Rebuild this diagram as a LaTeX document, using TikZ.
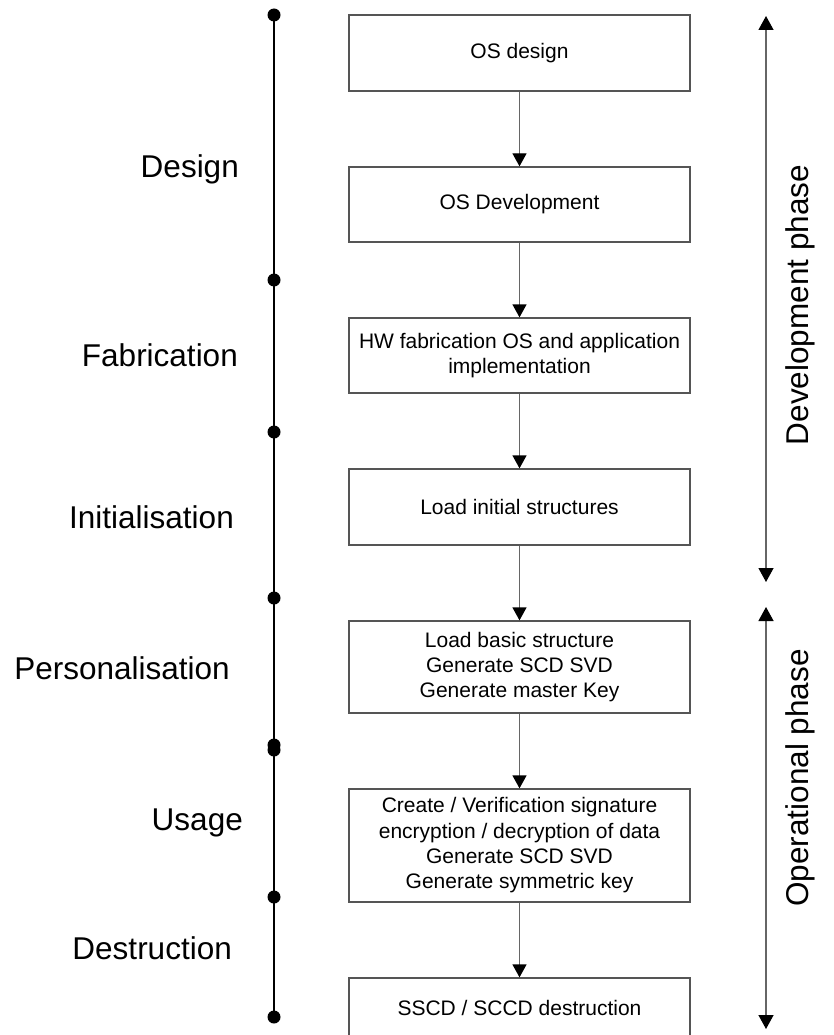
\documentclass[tikz,border=0pt]{standalone}
\usepackage{fontspec}
\setmainfont{Liberation Sans}
\usetikzlibrary{arrows.meta}
\definecolor{boxline}{HTML}{555555}
\definecolor{flowline}{HTML}{666666}
\tikzset{
  box/.style={draw=boxline, line width=1.3pt, minimum width=341pt, inner sep=0pt, align=center,
    font=\fontsize{21}{25.3}\selectfont},
  flow/.style={draw=flowline, line width=1.3pt, -{Triangle[length=13pt,width=14pt,fill=black,color=black]}},
  phase/.style={draw=flowline, line width=1.3pt, {Triangle[length=14pt,width=15pt,fill=black,color=black]}-{Triangle[length=14pt,width=15pt,fill=black,color=black]}},
  dot/.style={circle, fill=black, inner sep=0pt, minimum size=13pt},
  stage/.style={anchor=base east, inner sep=0pt, font=\fontsize{31.5}{36}\selectfont},
  phasetext/.style={rotate=90, inner sep=0pt, font=\fontsize{31.5}{36}\selectfont},
}
\begin{document}
\begin{tikzpicture}[x=1pt,y=-1pt]
\useasboundingbox (0,0) rectangle (833,1035);
\clip (0,0) rectangle (833,1035);
% timeline
\node[dot] (d1) at (274,15) {};
\node[dot] (d2) at (274,280) {};
\node[dot] (d3) at (274,432) {};
\node[dot] (d4) at (274,598) {};
\node[dot] (d5) at (274,745) {};
\node[dot] (d6) at (274,750) {};
\node[dot] (d7) at (274,897) {};
\node[dot] (d8) at (274,1017) {};
\draw[line width=2.5pt] (d1.center) -- (d8.center);
% stage labels
\node[stage] (l1) at (239,178) {Design};
\node[stage] (l2) at (238,366) {Fabrication};
\node[stage] (l3) at (234,528) {Initialisation};
\node[stage] (l4) at (230,679) {Personalisation};
\node[stage] (l5) at (243,830) {Usage};
\node[stage] (l6) at (232,959) {Destruction};
% boxes
\node[box, minimum height=76pt] (b1) at (519.5,53) {OS design};
\node[box, minimum height=75pt] (b2) at (519.5,204.5) {OS Development};
\node[box, minimum height=75pt] (b3) at (519.5,355.5) {HW fabrication OS and application\\implementation};
\node[box, minimum height=76pt] (b4) at (519.5,507) {Load initial structures};
\node[box, minimum height=92pt] (b5) at (519.5,667) {Load basic structure\\Generate SCD SVD\\Generate master Key};
\node[box, minimum height=113pt] (b6) at (519.5,845.5) {Create / Verification signature\\encryption / decryption of data\\Generate SCD SVD\\Generate symmetric key};
\node[box, minimum height=60pt] (b7) at (519.5,1008) {SSCD / SCCD destruction};
\draw[flow] (b1) -- (b2);
\draw[flow] (b2) -- (b3);
\draw[flow] (b3) -- (b4);
\draw[flow] (b4) -- (b5);
\draw[flow] (b5) -- (b6);
\draw[flow] (b6) -- (b7);
% phases
\coordinate (p1t) at (766,16);
\coordinate (p1b) at (766,582);
\coordinate (p2t) at (766,607);
\coordinate (p2b) at (766,1029);
\draw[phase] (p1t) -- (p1b);
\draw[phase] (p2t) -- (p2b);
\node[phasetext] (t1) at (800,305) {Development phase};
\node[phasetext] (t2) at (800,778) {Operational phase};
\end{tikzpicture}
\end{document}
